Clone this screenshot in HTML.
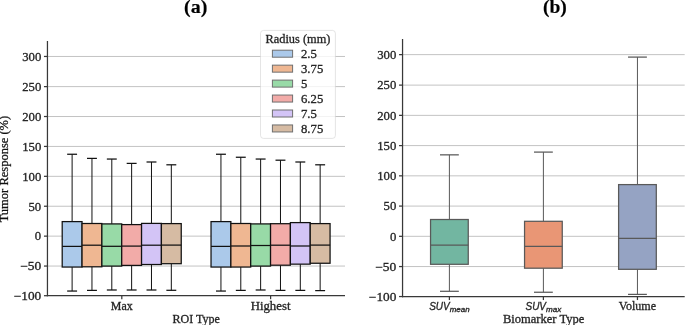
<!DOCTYPE html>
<html><head><meta charset="utf-8"><style>
html,body{margin:0;padding:0;background:#fff;}
body{width:685px;height:325px;overflow:hidden;font-family:"Liberation Serif",serif;}
svg{display:block;will-change:transform;}
</style></head><body>
<svg width="685" height="325" viewBox="0 0 685 325">
<rect width="685" height="325" fill="#ffffff"/>
<line x1="47.45" y1="266.05" x2="345.00" y2="266.05" stroke="#c3c3c3" stroke-width="1.0" />
<line x1="47.45" y1="236.14" x2="345.00" y2="236.14" stroke="#c3c3c3" stroke-width="1.0" />
<line x1="47.45" y1="206.24" x2="345.00" y2="206.24" stroke="#c3c3c3" stroke-width="1.0" />
<line x1="47.45" y1="176.33" x2="345.00" y2="176.33" stroke="#c3c3c3" stroke-width="1.0" />
<line x1="47.45" y1="146.43" x2="345.00" y2="146.43" stroke="#c3c3c3" stroke-width="1.0" />
<line x1="47.45" y1="116.52" x2="345.00" y2="116.52" stroke="#c3c3c3" stroke-width="1.0" />
<line x1="47.45" y1="86.62" x2="345.00" y2="86.62" stroke="#c3c3c3" stroke-width="1.0" />
<line x1="47.45" y1="56.46" x2="345.00" y2="56.46" stroke="#c3c3c3" stroke-width="1.0" />
<line x1="402.55" y1="266.56" x2="684.70" y2="266.56" stroke="#c3c3c3" stroke-width="1.0" />
<line x1="402.55" y1="236.32" x2="684.70" y2="236.32" stroke="#c3c3c3" stroke-width="1.0" />
<line x1="402.55" y1="206.08" x2="684.70" y2="206.08" stroke="#c3c3c3" stroke-width="1.0" />
<line x1="402.55" y1="175.84" x2="684.70" y2="175.84" stroke="#c3c3c3" stroke-width="1.0" />
<line x1="402.55" y1="145.60" x2="684.70" y2="145.60" stroke="#c3c3c3" stroke-width="1.0" />
<line x1="402.55" y1="115.36" x2="684.70" y2="115.36" stroke="#c3c3c3" stroke-width="1.0" />
<line x1="402.55" y1="85.12" x2="684.70" y2="85.12" stroke="#c3c3c3" stroke-width="1.0" />
<line x1="402.55" y1="54.63" x2="684.70" y2="54.63" stroke="#c3c3c3" stroke-width="1.0" />
<line x1="72.12" y1="221.60" x2="72.12" y2="154.25" stroke="#111111" stroke-width="1.0" />
<line x1="72.12" y1="267.05" x2="72.12" y2="291.05" stroke="#111111" stroke-width="1.0" />
<line x1="67.16" y1="154.25" x2="77.08" y2="154.25" stroke="#111111" stroke-width="1.25" />
<line x1="67.16" y1="291.05" x2="77.08" y2="291.05" stroke="#111111" stroke-width="1.25" />
<line x1="91.96" y1="223.50" x2="91.96" y2="158.40" stroke="#111111" stroke-width="1.0" />
<line x1="91.96" y1="266.80" x2="91.96" y2="290.40" stroke="#111111" stroke-width="1.0" />
<line x1="87.00" y1="158.40" x2="96.92" y2="158.40" stroke="#111111" stroke-width="1.25" />
<line x1="87.00" y1="290.40" x2="96.92" y2="290.40" stroke="#111111" stroke-width="1.25" />
<line x1="111.80" y1="223.90" x2="111.80" y2="159.05" stroke="#111111" stroke-width="1.0" />
<line x1="111.80" y1="266.10" x2="111.80" y2="290.00" stroke="#111111" stroke-width="1.0" />
<line x1="106.84" y1="159.05" x2="116.76" y2="159.05" stroke="#111111" stroke-width="1.25" />
<line x1="106.84" y1="290.00" x2="116.76" y2="290.00" stroke="#111111" stroke-width="1.25" />
<line x1="131.64" y1="224.60" x2="131.64" y2="163.40" stroke="#111111" stroke-width="1.0" />
<line x1="131.64" y1="265.40" x2="131.64" y2="290.00" stroke="#111111" stroke-width="1.0" />
<line x1="126.68" y1="163.40" x2="136.60" y2="163.40" stroke="#111111" stroke-width="1.25" />
<line x1="126.68" y1="290.00" x2="136.60" y2="290.00" stroke="#111111" stroke-width="1.25" />
<line x1="151.48" y1="223.40" x2="151.48" y2="162.00" stroke="#111111" stroke-width="1.0" />
<line x1="151.48" y1="264.50" x2="151.48" y2="290.00" stroke="#111111" stroke-width="1.0" />
<line x1="146.52" y1="162.00" x2="156.44" y2="162.00" stroke="#111111" stroke-width="1.25" />
<line x1="146.52" y1="290.00" x2="156.44" y2="290.00" stroke="#111111" stroke-width="1.25" />
<line x1="171.32" y1="223.60" x2="171.32" y2="164.80" stroke="#111111" stroke-width="1.0" />
<line x1="171.32" y1="263.70" x2="171.32" y2="290.30" stroke="#111111" stroke-width="1.0" />
<line x1="166.36" y1="164.80" x2="176.28" y2="164.80" stroke="#111111" stroke-width="1.25" />
<line x1="166.36" y1="290.30" x2="176.28" y2="290.30" stroke="#111111" stroke-width="1.25" />
<rect x="62.20" y="221.60" width="19.84" height="45.45" fill="#abc9ea" stroke="#111111" stroke-width="1.25"/>
<line x1="62.20" y1="246.40" x2="82.04" y2="246.40" stroke="#111111" stroke-width="1.25" />
<rect x="82.04" y="223.50" width="19.84" height="43.30" fill="#efb792" stroke="#111111" stroke-width="1.25"/>
<line x1="82.04" y1="245.20" x2="101.88" y2="245.20" stroke="#111111" stroke-width="1.25" />
<rect x="101.88" y="223.90" width="19.84" height="42.20" fill="#98daa7" stroke="#111111" stroke-width="1.25"/>
<line x1="101.88" y1="246.30" x2="121.72" y2="246.30" stroke="#111111" stroke-width="1.25" />
<rect x="121.72" y="224.60" width="19.84" height="40.80" fill="#f2aba8" stroke="#111111" stroke-width="1.25"/>
<line x1="121.72" y1="246.10" x2="141.56" y2="246.10" stroke="#111111" stroke-width="1.25" />
<rect x="141.56" y="223.40" width="19.84" height="41.10" fill="#d3c4f6" stroke="#111111" stroke-width="1.25"/>
<line x1="141.56" y1="245.20" x2="161.40" y2="245.20" stroke="#111111" stroke-width="1.25" />
<rect x="161.40" y="223.60" width="19.84" height="40.10" fill="#d6bba3" stroke="#111111" stroke-width="1.25"/>
<line x1="161.40" y1="245.10" x2="181.24" y2="245.10" stroke="#111111" stroke-width="1.25" />
<line x1="220.95" y1="221.60" x2="220.95" y2="154.25" stroke="#111111" stroke-width="1.0" />
<line x1="220.95" y1="267.05" x2="220.95" y2="291.05" stroke="#111111" stroke-width="1.0" />
<line x1="215.99" y1="154.25" x2="225.91" y2="154.25" stroke="#111111" stroke-width="1.25" />
<line x1="215.99" y1="291.05" x2="225.91" y2="291.05" stroke="#111111" stroke-width="1.25" />
<line x1="240.79" y1="223.50" x2="240.79" y2="157.25" stroke="#111111" stroke-width="1.0" />
<line x1="240.79" y1="267.05" x2="240.79" y2="290.40" stroke="#111111" stroke-width="1.0" />
<line x1="235.83" y1="157.25" x2="245.75" y2="157.25" stroke="#111111" stroke-width="1.25" />
<line x1="235.83" y1="290.40" x2="245.75" y2="290.40" stroke="#111111" stroke-width="1.25" />
<line x1="260.63" y1="223.90" x2="260.63" y2="159.05" stroke="#111111" stroke-width="1.0" />
<line x1="260.63" y1="266.10" x2="260.63" y2="290.00" stroke="#111111" stroke-width="1.0" />
<line x1="255.67" y1="159.05" x2="265.59" y2="159.05" stroke="#111111" stroke-width="1.25" />
<line x1="255.67" y1="290.00" x2="265.59" y2="290.00" stroke="#111111" stroke-width="1.25" />
<line x1="280.47" y1="223.70" x2="280.47" y2="160.20" stroke="#111111" stroke-width="1.0" />
<line x1="280.47" y1="265.20" x2="280.47" y2="290.40" stroke="#111111" stroke-width="1.0" />
<line x1="275.51" y1="160.20" x2="285.43" y2="160.20" stroke="#111111" stroke-width="1.25" />
<line x1="275.51" y1="290.40" x2="285.43" y2="290.40" stroke="#111111" stroke-width="1.25" />
<line x1="300.31" y1="222.60" x2="300.31" y2="162.00" stroke="#111111" stroke-width="1.0" />
<line x1="300.31" y1="264.15" x2="300.31" y2="290.40" stroke="#111111" stroke-width="1.0" />
<line x1="295.35" y1="162.00" x2="305.27" y2="162.00" stroke="#111111" stroke-width="1.25" />
<line x1="295.35" y1="290.40" x2="305.27" y2="290.40" stroke="#111111" stroke-width="1.25" />
<line x1="320.15" y1="223.60" x2="320.15" y2="164.80" stroke="#111111" stroke-width="1.0" />
<line x1="320.15" y1="263.25" x2="320.15" y2="290.60" stroke="#111111" stroke-width="1.0" />
<line x1="315.19" y1="164.80" x2="325.11" y2="164.80" stroke="#111111" stroke-width="1.25" />
<line x1="315.19" y1="290.60" x2="325.11" y2="290.60" stroke="#111111" stroke-width="1.25" />
<rect x="211.03" y="221.60" width="19.84" height="45.45" fill="#abc9ea" stroke="#111111" stroke-width="1.25"/>
<line x1="211.03" y1="246.40" x2="230.87" y2="246.40" stroke="#111111" stroke-width="1.25" />
<rect x="230.87" y="223.50" width="19.84" height="43.55" fill="#efb792" stroke="#111111" stroke-width="1.25"/>
<line x1="230.87" y1="246.00" x2="250.71" y2="246.00" stroke="#111111" stroke-width="1.25" />
<rect x="250.71" y="223.90" width="19.84" height="42.20" fill="#98daa7" stroke="#111111" stroke-width="1.25"/>
<line x1="250.71" y1="245.50" x2="270.55" y2="245.50" stroke="#111111" stroke-width="1.25" />
<rect x="270.55" y="223.70" width="19.84" height="41.50" fill="#f2aba8" stroke="#111111" stroke-width="1.25"/>
<line x1="270.55" y1="245.20" x2="290.39" y2="245.20" stroke="#111111" stroke-width="1.25" />
<rect x="290.39" y="222.60" width="19.84" height="41.55" fill="#d3c4f6" stroke="#111111" stroke-width="1.25"/>
<line x1="290.39" y1="246.00" x2="310.23" y2="246.00" stroke="#111111" stroke-width="1.25" />
<rect x="310.23" y="223.60" width="19.84" height="39.65" fill="#d6bba3" stroke="#111111" stroke-width="1.25"/>
<line x1="310.23" y1="245.10" x2="330.07" y2="245.10" stroke="#111111" stroke-width="1.25" />
<line x1="449.40" y1="219.50" x2="449.40" y2="154.85" stroke="#595959" stroke-width="1.0" />
<line x1="449.40" y1="264.30" x2="449.40" y2="291.30" stroke="#595959" stroke-width="1.0" />
<line x1="439.97" y1="154.85" x2="458.82" y2="154.85" stroke="#595959" stroke-width="1.25" />
<line x1="439.97" y1="291.30" x2="458.82" y2="291.30" stroke="#595959" stroke-width="1.25" />
<rect x="430.55" y="219.50" width="37.70" height="44.80" fill="#72b6a1" stroke="#595959" stroke-width="1.25"/>
<line x1="430.55" y1="245.10" x2="468.25" y2="245.10" stroke="#595959" stroke-width="1.25" />
<line x1="543.40" y1="221.30" x2="543.40" y2="152.10" stroke="#595959" stroke-width="1.0" />
<line x1="543.40" y1="268.20" x2="543.40" y2="292.25" stroke="#595959" stroke-width="1.0" />
<line x1="533.98" y1="152.10" x2="552.82" y2="152.10" stroke="#595959" stroke-width="1.25" />
<line x1="533.98" y1="292.25" x2="552.82" y2="292.25" stroke="#595959" stroke-width="1.25" />
<rect x="524.55" y="221.30" width="37.70" height="46.90" fill="#e99675" stroke="#595959" stroke-width="1.25"/>
<line x1="524.55" y1="246.40" x2="562.25" y2="246.40" stroke="#595959" stroke-width="1.25" />
<line x1="637.45" y1="184.60" x2="637.45" y2="57.10" stroke="#595959" stroke-width="1.0" />
<line x1="637.45" y1="269.30" x2="637.45" y2="294.40" stroke="#595959" stroke-width="1.0" />
<line x1="628.03" y1="57.10" x2="646.88" y2="57.10" stroke="#595959" stroke-width="1.25" />
<line x1="628.03" y1="294.40" x2="646.88" y2="294.40" stroke="#595959" stroke-width="1.25" />
<rect x="618.60" y="184.60" width="37.70" height="84.70" fill="#95a3c3" stroke="#595959" stroke-width="1.25"/>
<line x1="618.60" y1="238.40" x2="656.30" y2="238.40" stroke="#595959" stroke-width="1.25" />
<rect x="260.5" y="30.4" width="74.9" height="108.0" rx="3" ry="3" fill="#ffffff" fill-opacity="0.8" stroke="#d0d0d0" stroke-opacity="0.55" stroke-width="1"/>
<text x="297.95" y="42.50" text-anchor="middle" font-size="11.8" font-family="Liberation Serif" fill="#262626" stroke="#262626" stroke-width="0.3" textLength="64.84" lengthAdjust="spacingAndGlyphs" >Radius (mm)</text>
<rect x="272.40" y="50.20" width="20.20" height="7.00" fill="#abc9ea" stroke="#6f6f6f" stroke-width="1.0"/>
<text x="301.00" y="57.95" text-anchor="start" font-size="11.8" font-family="Liberation Serif" fill="#262626" stroke="#262626" stroke-width="0.3" textLength="15.90" lengthAdjust="spacingAndGlyphs" >2.5</text>
<rect x="272.40" y="65.15" width="20.20" height="7.00" fill="#efb792" stroke="#6f6f6f" stroke-width="1.0"/>
<text x="301.00" y="72.90" text-anchor="start" font-size="11.8" font-family="Liberation Serif" fill="#262626" stroke="#262626" stroke-width="0.3" textLength="22.27" lengthAdjust="spacingAndGlyphs" >3.75</text>
<rect x="272.40" y="80.10" width="20.20" height="7.00" fill="#98daa7" stroke="#6f6f6f" stroke-width="1.0"/>
<text x="301.00" y="87.85" text-anchor="start" font-size="11.8" font-family="Liberation Serif" fill="#262626" stroke="#262626" stroke-width="0.3" textLength="6.36" lengthAdjust="spacingAndGlyphs" >5</text>
<rect x="272.40" y="95.05" width="20.20" height="7.00" fill="#f2aba8" stroke="#6f6f6f" stroke-width="1.0"/>
<text x="301.00" y="102.80" text-anchor="start" font-size="11.8" font-family="Liberation Serif" fill="#262626" stroke="#262626" stroke-width="0.3" textLength="22.27" lengthAdjust="spacingAndGlyphs" >6.25</text>
<rect x="272.40" y="110.00" width="20.20" height="7.00" fill="#d3c4f6" stroke="#6f6f6f" stroke-width="1.0"/>
<text x="301.00" y="117.75" text-anchor="start" font-size="11.8" font-family="Liberation Serif" fill="#262626" stroke="#262626" stroke-width="0.3" textLength="15.90" lengthAdjust="spacingAndGlyphs" >7.5</text>
<rect x="272.40" y="124.95" width="20.20" height="7.00" fill="#d6bba3" stroke="#6f6f6f" stroke-width="1.0"/>
<text x="301.00" y="132.70" text-anchor="start" font-size="11.8" font-family="Liberation Serif" fill="#262626" stroke="#262626" stroke-width="0.3" textLength="22.27" lengthAdjust="spacingAndGlyphs" >8.75</text>
<line x1="47.45" y1="40.90" x2="47.45" y2="296.32" stroke="#383838" stroke-width="1.25" />
<line x1="46.83" y1="295.70" x2="345.00" y2="295.70" stroke="#383838" stroke-width="1.25" />
<line x1="43.95" y1="295.70" x2="47.45" y2="295.70" stroke="#383838" stroke-width="1.25" />
<text x="41.25" y="300.30" text-anchor="end" font-size="11.8" font-family="Liberation Serif" fill="#262626" stroke="#262626" stroke-width="0.3" textLength="27.47" lengthAdjust="spacingAndGlyphs" >−100</text>
<line x1="43.95" y1="266.05" x2="47.45" y2="266.05" stroke="#383838" stroke-width="1.25" />
<text x="41.25" y="270.40" text-anchor="end" font-size="11.8" font-family="Liberation Serif" fill="#262626" stroke="#262626" stroke-width="0.3" textLength="21.10" lengthAdjust="spacingAndGlyphs" >−50</text>
<line x1="43.95" y1="236.14" x2="47.45" y2="236.14" stroke="#383838" stroke-width="1.25" />
<text x="41.25" y="240.49" text-anchor="end" font-size="11.8" font-family="Liberation Serif" fill="#262626" stroke="#262626" stroke-width="0.3" textLength="6.36" lengthAdjust="spacingAndGlyphs" >0</text>
<line x1="43.95" y1="206.24" x2="47.45" y2="206.24" stroke="#383838" stroke-width="1.25" />
<text x="41.25" y="210.59" text-anchor="end" font-size="11.8" font-family="Liberation Serif" fill="#262626" stroke="#262626" stroke-width="0.3" textLength="12.72" lengthAdjust="spacingAndGlyphs" >50</text>
<line x1="43.95" y1="176.33" x2="47.45" y2="176.33" stroke="#383838" stroke-width="1.25" />
<text x="41.25" y="180.68" text-anchor="end" font-size="11.8" font-family="Liberation Serif" fill="#262626" stroke="#262626" stroke-width="0.3" textLength="19.09" lengthAdjust="spacingAndGlyphs" >100</text>
<line x1="43.95" y1="146.43" x2="47.45" y2="146.43" stroke="#383838" stroke-width="1.25" />
<text x="41.25" y="150.78" text-anchor="end" font-size="11.8" font-family="Liberation Serif" fill="#262626" stroke="#262626" stroke-width="0.3" textLength="19.09" lengthAdjust="spacingAndGlyphs" >150</text>
<line x1="43.95" y1="116.52" x2="47.45" y2="116.52" stroke="#383838" stroke-width="1.25" />
<text x="41.25" y="120.87" text-anchor="end" font-size="11.8" font-family="Liberation Serif" fill="#262626" stroke="#262626" stroke-width="0.3" textLength="19.09" lengthAdjust="spacingAndGlyphs" >200</text>
<line x1="43.95" y1="86.62" x2="47.45" y2="86.62" stroke="#383838" stroke-width="1.25" />
<text x="41.25" y="90.97" text-anchor="end" font-size="11.8" font-family="Liberation Serif" fill="#262626" stroke="#262626" stroke-width="0.3" textLength="19.09" lengthAdjust="spacingAndGlyphs" >250</text>
<line x1="43.95" y1="56.46" x2="47.45" y2="56.46" stroke="#383838" stroke-width="1.25" />
<text x="41.25" y="61.06" text-anchor="end" font-size="11.8" font-family="Liberation Serif" fill="#262626" stroke="#262626" stroke-width="0.3" textLength="19.09" lengthAdjust="spacingAndGlyphs" >300</text>
<line x1="402.55" y1="38.90" x2="402.55" y2="297.18" stroke="#383838" stroke-width="1.25" />
<line x1="401.93" y1="296.55" x2="684.70" y2="296.55" stroke="#383838" stroke-width="1.25" />
<line x1="399.05" y1="296.55" x2="402.55" y2="296.55" stroke="#383838" stroke-width="1.25" />
<text x="396.35" y="301.15" text-anchor="end" font-size="11.8" font-family="Liberation Serif" fill="#262626" stroke="#262626" stroke-width="0.3" textLength="27.47" lengthAdjust="spacingAndGlyphs" >−100</text>
<line x1="399.05" y1="266.56" x2="402.55" y2="266.56" stroke="#383838" stroke-width="1.25" />
<text x="396.35" y="270.91" text-anchor="end" font-size="11.8" font-family="Liberation Serif" fill="#262626" stroke="#262626" stroke-width="0.3" textLength="21.10" lengthAdjust="spacingAndGlyphs" >−50</text>
<line x1="399.05" y1="236.32" x2="402.55" y2="236.32" stroke="#383838" stroke-width="1.25" />
<text x="396.35" y="240.67" text-anchor="end" font-size="11.8" font-family="Liberation Serif" fill="#262626" stroke="#262626" stroke-width="0.3" textLength="6.36" lengthAdjust="spacingAndGlyphs" >0</text>
<line x1="399.05" y1="206.08" x2="402.55" y2="206.08" stroke="#383838" stroke-width="1.25" />
<text x="396.35" y="210.43" text-anchor="end" font-size="11.8" font-family="Liberation Serif" fill="#262626" stroke="#262626" stroke-width="0.3" textLength="12.72" lengthAdjust="spacingAndGlyphs" >50</text>
<line x1="399.05" y1="175.84" x2="402.55" y2="175.84" stroke="#383838" stroke-width="1.25" />
<text x="396.35" y="180.19" text-anchor="end" font-size="11.8" font-family="Liberation Serif" fill="#262626" stroke="#262626" stroke-width="0.3" textLength="19.09" lengthAdjust="spacingAndGlyphs" >100</text>
<line x1="399.05" y1="145.60" x2="402.55" y2="145.60" stroke="#383838" stroke-width="1.25" />
<text x="396.35" y="149.95" text-anchor="end" font-size="11.8" font-family="Liberation Serif" fill="#262626" stroke="#262626" stroke-width="0.3" textLength="19.09" lengthAdjust="spacingAndGlyphs" >150</text>
<line x1="399.05" y1="115.36" x2="402.55" y2="115.36" stroke="#383838" stroke-width="1.25" />
<text x="396.35" y="119.71" text-anchor="end" font-size="11.8" font-family="Liberation Serif" fill="#262626" stroke="#262626" stroke-width="0.3" textLength="19.09" lengthAdjust="spacingAndGlyphs" >200</text>
<line x1="399.05" y1="85.12" x2="402.55" y2="85.12" stroke="#383838" stroke-width="1.25" />
<text x="396.35" y="89.47" text-anchor="end" font-size="11.8" font-family="Liberation Serif" fill="#262626" stroke="#262626" stroke-width="0.3" textLength="19.09" lengthAdjust="spacingAndGlyphs" >250</text>
<line x1="399.05" y1="54.63" x2="402.55" y2="54.63" stroke="#383838" stroke-width="1.25" />
<text x="396.35" y="59.23" text-anchor="end" font-size="11.8" font-family="Liberation Serif" fill="#262626" stroke="#262626" stroke-width="0.3" textLength="19.09" lengthAdjust="spacingAndGlyphs" >300</text>
<line x1="121.80" y1="295.70" x2="121.80" y2="299.20" stroke="#383838" stroke-width="1.25" />
<text x="121.80" y="310.00" text-anchor="middle" font-size="11.8" font-family="Liberation Serif" fill="#262626" stroke="#262626" stroke-width="0.3" textLength="21.84" lengthAdjust="spacingAndGlyphs" >Max</text>
<line x1="270.60" y1="295.70" x2="270.60" y2="299.20" stroke="#383838" stroke-width="1.25" />
<text x="270.60" y="310.00" text-anchor="middle" font-size="11.8" font-family="Liberation Serif" fill="#262626" stroke="#262626" stroke-width="0.3" textLength="39.83" lengthAdjust="spacingAndGlyphs" >Highest</text>
<line x1="449.40" y1="296.55" x2="449.40" y2="300.05" stroke="#383838" stroke-width="1.25" />
<line x1="543.40" y1="296.55" x2="543.40" y2="300.05" stroke="#383838" stroke-width="1.25" />
<line x1="637.45" y1="296.55" x2="637.45" y2="300.05" stroke="#383838" stroke-width="1.25" />
<text x="637.45" y="309.90" text-anchor="middle" font-size="11.8" font-family="Liberation Serif" fill="#262626" stroke="#262626" stroke-width="0.3" textLength="37.36" lengthAdjust="spacingAndGlyphs" >Volume</text>
<text x="429.22" y="309.90" text-anchor="start" font-size="10.2" font-family="Liberation Sans" font-style="italic" fill="#262626" stroke="#262626" stroke-width="0.3" textLength="20.51" lengthAdjust="spacingAndGlyphs" >SUV</text>
<text x="449.73" y="311.70" text-anchor="start" font-size="7.1" font-family="Liberation Sans" font-style="italic" fill="#262626" stroke="#262626" stroke-width="0.3" textLength="19.85" lengthAdjust="spacingAndGlyphs" >mean</text>
<text x="525.52" y="309.90" text-anchor="start" font-size="10.2" font-family="Liberation Sans" font-style="italic" fill="#262626" stroke="#262626" stroke-width="0.3" textLength="20.51" lengthAdjust="spacingAndGlyphs" >SUV</text>
<text x="546.03" y="311.70" text-anchor="start" font-size="7.1" font-family="Liberation Sans" font-style="italic" fill="#262626" stroke="#262626" stroke-width="0.3" textLength="15.25" lengthAdjust="spacingAndGlyphs" >max</text>
<text x="196.20" y="322.90" text-anchor="middle" font-size="11.8" font-family="Liberation Serif" fill="#262626" stroke="#262626" stroke-width="0.3" textLength="47.50" lengthAdjust="spacingAndGlyphs" >ROI Type</text>
<text x="543.60" y="322.90" text-anchor="middle" font-size="11.8" font-family="Liberation Serif" fill="#262626" stroke="#262626" stroke-width="0.3" textLength="81.37" lengthAdjust="spacingAndGlyphs" >Biomarker Type</text>
<text x="0" y="0" transform="translate(8.1,169.1) rotate(-90)" text-anchor="middle" font-size="12.2" font-family="Liberation Serif" fill="#111" stroke="#111" stroke-width="0.25" textLength="106.5" lengthAdjust="spacingAndGlyphs">Tumor Response (%)</text>
<text x="195.7" y="12.55" text-anchor="middle" font-size="18.5" font-family="Liberation Serif" font-weight="bold" fill="#000" stroke="#000" stroke-width="0.15" textLength="23.3" lengthAdjust="spacingAndGlyphs">(a)</text>
<text x="554.9" y="12.55" text-anchor="middle" font-size="18.5" font-family="Liberation Serif" font-weight="bold" fill="#000" stroke="#000" stroke-width="0.15" textLength="23.9" lengthAdjust="spacingAndGlyphs">(b)</text>
</svg>
</body></html>
